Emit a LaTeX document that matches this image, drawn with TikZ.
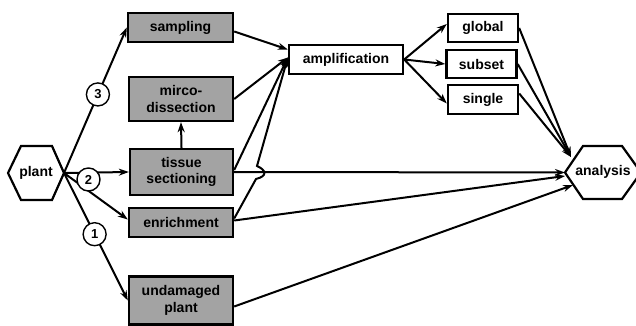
\documentclass[tikz,border=0pt]{standalone}
\usepackage{fontspec}
\setmainfont{Liberation Sans}
\usetikzlibrary{arrows.meta,calc}
\definecolor{boxgrey}{HTML}{A3A3A3}
\begin{document}
\begin{tikzpicture}[x=1pt,y=-1pt,
  font=\bfseries\fontsize{14}{16.5}\selectfont,
  box/.style={draw, line width=2.4pt, fill=boxgrey, align=center, inner sep=0pt},
  wbox/.style={box, fill=white},
  hexline/.style={draw, line width=2.2pt, line join=miter},
  arr/.style={line width=2pt, -{Stealth[length=10pt,width=7pt]}},
  num/.style={draw, circle, fill=white, line width=1.4pt, minimum size=23pt, inner sep=0pt, font=\bfseries\fontsize{13}{13}\selectfont}
]
\useasboundingbox (0,0) rectangle (636,326);

% hexagons
\draw[hexline] (8,173) -- (21,146) -- (52,146) -- (64,173) -- (52,200) -- (21,200) -- cycle;
\node (plant) at (36,173) {plant};
\coordinate (plantR) at (64,173);
\draw[hexline] (565,172.5) -- (583,146) -- (622,146) -- (641,172.5) -- (622,199) -- (583,199) -- cycle;
\node (analysis) at (603,172) {analysis};
\coordinate (anL) at (565,172.5);
\coordinate (anE) at (565,176);
\coordinate (anLow) at (573,185);
\coordinate (anUp) at (571,157);

% boxes
\node[box, minimum width=105pt, minimum height=29pt] (sampling) at (180.5,27.5) {sampling};
\node[box, minimum width=104pt, minimum height=44pt] (micro) at (181,99) {mirco-\\dissection};
\node[box, minimum width=103pt, minimum height=46pt] (tissue) at (181.5,172) {tissue\\sectioning};
\node[box, minimum width=104pt, minimum height=29pt] (enrich) at (181,222.5) {enrichment};
\node[box, minimum width=104pt, minimum height=48pt] (undam) at (181,300.5) {undamaged\\plant};
\node[wbox, minimum width=114pt, minimum height=29pt] (amp) at (346,59.5) {amplification};
\node[wbox, minimum width=70pt, minimum height=28pt] (global) at (483,28) {global};
\node[wbox, minimum width=70pt, minimum height=28pt] (subset) at (481.5,64) {subset};
\node[wbox, minimum width=70pt, minimum height=29pt] (single) at (483,99.5) {single};

\coordinate (ampA) at ([yshift=10pt]amp.west);
\coordinate (ampB) at ([yshift=2pt]amp.west);

% from plant
\draw[arr] (plantR) -- node[num, pos=0.54] (n3) {3} (sampling.west);
\draw[arr] (plantR) -- (tissue.west);
\draw[arr] (plantR) -- ([yshift=3pt]enrich.west);
\draw[arr] (plantR) -- node[num, pos=0.48] (n1) {1} (undam.west);
\node[num] (n2) at (88.5,179.5) {2};

% to amplification
\draw[arr] (tissue.north) -- (micro.south);
\draw[arr] ([yshift=-4pt]sampling.east) -- (ampA);
\draw[arr] (micro.east) -- (ampB);
\draw[arr] ([yshift=2pt]tissue.east) -- (ampB);

% to analysis
\draw[arr] (tissue.east) -- (anL);
\coordinate (b1) at (256,179);
\coordinate (b2) at (257,166);
\draw[arr] ([yshift=4pt]enrich.east) -- (b1) .. controls (268,176) and (266,170) .. (b2) -- (ampB);
\draw[arr] ([yshift=2pt]enrich.east) -- (anE);
\draw[arr] ([yshift=-6pt]undam.east) -- (anLow);

% amplification fan
\draw[arr] (amp.east) -- ([yshift=4pt]global.west);
\draw[arr] (amp.east) -- (subset.west);
\draw[arr] (amp.east) -- ([yshift=-4pt]single.west);

\draw[arr] (global.east) -- (anUp);
\draw[arr] (subset.east) -- (anUp);
\draw[arr] ([yshift=6pt]single.east) -- (anUp);
\end{tikzpicture}
\end{document}
